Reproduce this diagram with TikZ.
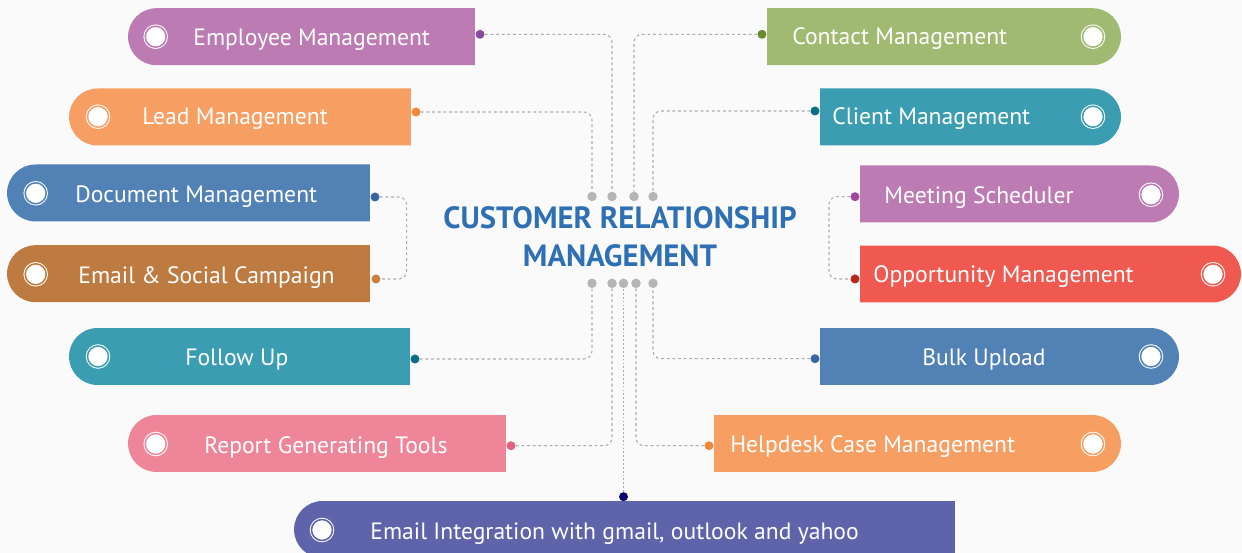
\documentclass[tikz,border=0pt]{standalone}
\usepackage{fontspec}
\setmainfont{PT Sans}
\usepackage{xcolor}
\usetikzlibrary{shapes.misc}

\definecolor{bgcol}{HTML}{FAFAFA}
\definecolor{purplecol}{HTML}{BD7BB3}
\definecolor{orangecol}{HTML}{F79F63}
\definecolor{bluecol}{HTML}{5282B5}
\definecolor{browncol}{HTML}{BD7B42}
\definecolor{tealcol}{HTML}{3A9DB1}
\definecolor{pinkcol}{HTML}{EF8599}
\definecolor{indigocol}{HTML}{5E63AA}
\definecolor{greencol}{HTML}{A1BA72}
\definecolor{redcol}{HTML}{F0594F}
\definecolor{titlecol}{HTML}{2F70B5}
\definecolor{hubgray}{HTML}{B5B5B5}
\definecolor{linkgray}{HTML}{ABABAB}
% dot colours
\definecolor{dotpurple}{HTML}{8B4A9B}
\definecolor{dotorange}{HTML}{F0883A}
\definecolor{dotblue}{HTML}{3866A3}
\definecolor{dotbrown}{HTML}{CC8040}
\definecolor{dotteal}{HTML}{0C6E85}
\definecolor{dotpink}{HTML}{E75F7F}
\definecolor{dotnavy}{HTML}{0A0A6E}
\definecolor{dotgreen}{HTML}{6B8A2C}
\definecolor{dotmagenta}{HTML}{A0479A}
\definecolor{dotred}{HTML}{B8251A}

\tikzset{
  card/.style={rounded rectangle, fill=#1, minimum height=1.14cm, inner sep=0pt, outer sep=0pt},
  lcard/.style={card=#1, rounded rectangle right arc=none},
  rcard/.style={card=#1, rounded rectangle left arc=none},
  lbl/.style={text=white, font=\fontsize{13.45}{16}\selectfont, anchor=base west, inner sep=0pt, yshift=-0.18cm},
  icon/.style={circle, fill=white, draw=white, double=#1, double distance=0.03cm, line width=0.02cm, minimum size=0.42cm, inner sep=0pt},
  dot/.style={circle, fill=#1, minimum size=0.18cm, inner sep=0pt},
  hub/.style={circle, fill=hubgray, minimum size=0.19cm, inner sep=0pt},
  link/.style={draw=linkgray, line width=0.6pt, dash pattern=on 1.6pt off 1.6pt, rounded corners=0.16cm},
}

\begin{document}
\begin{tikzpicture}[x=0.02cm, y=-0.02cm]
    \fill[bgcol] (0,0) rectangle (1242,553);
    \useasboundingbox (0,0) rectangle (1242,553);
    \clip (0,0) rectangle (1242,553);

    % title
    \node[text=titlecol, font=\bfseries\fontsize{17.5}{21.5}\selectfont, align=center] (title) at (620,237) {CUSTOMER RELATIONSHIP\\MANAGEMENT};

    % hub dots
    \node[hub] (t1) at (592,196.5) {};
    \node[hub] (t2) at (612,196.5) {};
    \node[hub] (t3) at (634,196.5) {};
    \node[hub] (t4) at (653,196.5) {};
    \node[hub] (b1) at (592,283.3) {};
    \node[hub] (b2) at (612,283.3) {};
    \node[hub] (b3) at (623.5,283.3) {};
    \node[hub] (b4) at (636,283.3) {};
    \node[hub] (b5) at (653,283.3) {};

    % left cards
    \node[lcard=purplecol, minimum width=6.94cm] (emp) at (301.5,36.7) {};
    \node[lcard=orangecol, minimum width=6.84cm] (lead) at (240,117) {};
    \node[lcard=bluecol, minimum width=7.26cm] (doc) at (188.5,193) {};
    \node[lcard=browncol, minimum width=7.26cm] (esc) at (188.5,273.7) {};
    \node[lcard=tealcol, minimum width=6.82cm] (follow) at (239.5,356.5) {};
    \node[lcard=pinkcol, minimum width=7.56cm] (report) at (317,443.5) {};
    \node[lcard=indigocol, minimum width=13.22cm] (mail) at (624.5,529.5) {};

    % right cards
    \node[rcard=greencol, minimum width=7.08cm] (contact) at (944,36.7) {};
    \node[rcard=tealcol, minimum width=6.02cm] (client) at (970.5,117) {};
    \node[rcard=purplecol, minimum width=6.38cm] (meet) at (1019.5,194) {};
    \node[rcard=redcol, minimum width=7.62cm] (opp) at (1050.5,274) {};
    \node[rcard=bluecol, minimum width=7.18cm] (bulk) at (999.5,356.5) {};
    \node[rcard=orangecol, minimum width=8.14cm] (help) at (917.5,443.5) {};

    % labels
    \node[lbl] (emptxt) at (193,36.7) {Employee Management};
    \node[lbl] (leadtxt) at (142,116) {Lead Management};
    \node[lbl] (doctxt) at (75,194) {Document Management};
    \node[lbl] (esctxt) at (78,274.7) {Email \& Social Campaign};
    \node[lbl] (followtxt) at (185,356.5) {Follow Up};
    \node[lbl] (reporttxt) at (204,444.5) {Report Generating Tools};
    \node[lbl] (mailtxt) at (370,531) {Email Integration with gmail, outlook and yahoo};
    \node[lbl] (contacttxt) at (792,35.7) {Contact Management};
    \node[lbl] (clienttxt) at (832,116) {Client Management};
    \node[lbl] (meettxt) at (884,195) {Meeting Scheduler};
    \node[lbl] (opptxt) at (873,274) {Opportunity Management};
    \node[lbl] (bulktxt) at (922,356.5) {Bulk Upload};
    \node[lbl] (helptxt) at (730,443.5) {Helpdesk Case Management};

    % icons
    \node[icon=purplecol] (empico) at (155.7,36.7) {};
    \node[icon=orangecol] (leadico) at (98,116.7) {};
    \node[icon=bluecol] (docico) at (35.7,193.3) {};
    \node[icon=browncol] (escico) at (35.7,274.3) {};
    \node[icon=tealcol] (followico) at (98,356.5) {};
    \node[icon=pinkcol] (reportico) at (155.7,444) {};
    \node[icon=indigocol] (mailico) at (322,530) {};
    \node[icon=greencol] (contactico) at (1093,36.7) {};
    \node[icon=tealcol] (clientico) at (1093,116.7) {};
    \node[icon=purplecol] (meetico) at (1151,194.7) {};
    \node[icon=redcol] (oppico) at (1213,274.3) {};
    \node[icon=bluecol] (bulkico) at (1151,356.5) {};
    \node[icon=orangecol] (helpico) at (1093,444) {};

    % connector dots
    \node[dot=dotpurple] (empdot) at (480,34.3) {};
    \node[dot=dotorange] (leaddot) at (416,112) {};
    \node[dot=dotblue] (docdot) at (375,197) {};
    \node[dot=dotbrown] (escdot) at (376,279) {};
    \node[dot=dotteal] (followdot) at (415,359) {};
    \node[dot=dotpink] (reportdot) at (511,445.7) {};
    \node[dot=dotnavy] (maildot) at (623.5,496.7) {};
    \node[dot=dotgreen] (contactdot) at (762,34.3) {};
    \node[dot=dotteal] (clientdot) at (815,111) {};
    \node[dot=dotmagenta] (meetdot) at (855,196.7) {};
    \node[dot=dotred] (oppdot) at (855,279) {};
    \node[dot=dotblue] (bulkdot) at (815,358.7) {};
    \node[dot=dotorange] (helpdot) at (709,445.7) {};

    % connectors
    \draw[link] (empdot) -| (t2);
    \draw[link] (leaddot) -| (t1);
    \draw[link] (contactdot) -| (t3);
    \draw[link] (clientdot) -| (t4);
    \draw[link] (docdot) -- ++(31.7,0) |- (escdot);
    \draw[link] (meetdot) -- ++(-26,0) |- (oppdot);
    \draw[link] (followdot) -| (b1);
    \draw[link] (reportdot) -| (b2);
    \draw[link, line width=0.4pt, dash pattern=on 1pt off 1.2pt] (maildot) -- (b3);
    \draw[link] (helpdot) -| (b4);
    \draw[link] (bulkdot) -| (b5);
\end{tikzpicture}
\end{document}
